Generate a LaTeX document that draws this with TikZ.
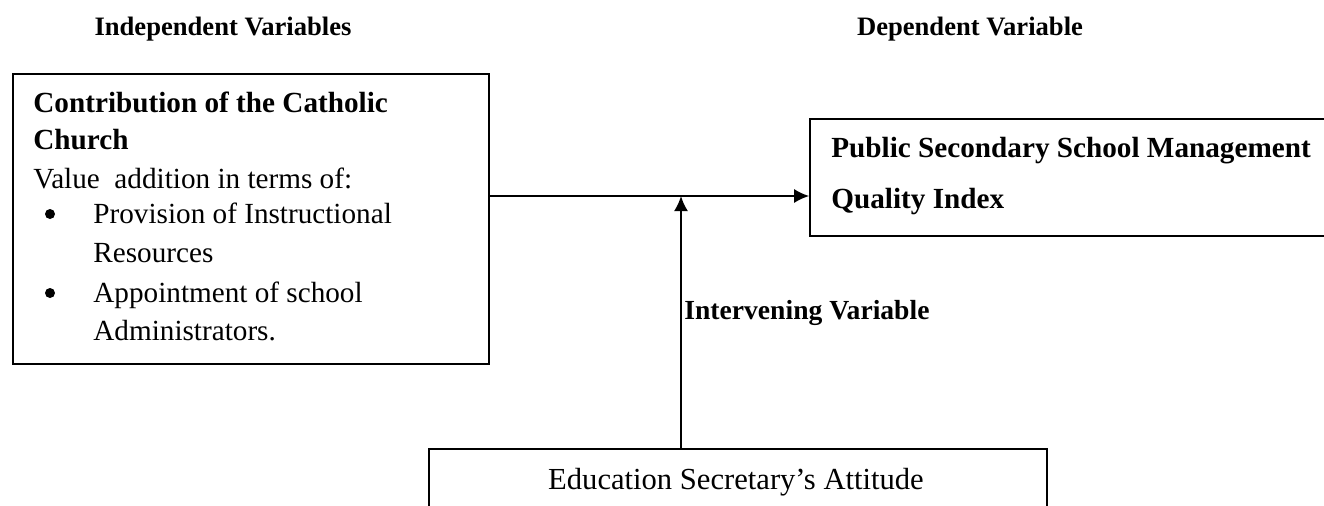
\documentclass[tikz,border=0pt]{standalone}
\usepackage{fontspec}
\setmainfont{Liberation Serif}
\usetikzlibrary{arrows.meta,positioning}
\tikzset{
  box/.style={draw, line width=0.8pt, inner sep=0pt},
  body/.style={anchor=base west, inner sep=0pt, font=\fontsize{14.6pt}{19pt}\selectfont},
  bodybf/.style={anchor=base west, inner sep=0pt, font=\fontsize{14.6pt}{19pt}\selectfont\bfseries},
  head/.style={anchor=base, inner sep=0pt, font=\fontsize{13.3pt}{16pt}\selectfont\bfseries},
  dot/.style={circle, fill, inner sep=0pt, minimum size=5pt},
  link/.style={line width=1pt, -{Latex[length=7.5pt,width=7pt]}}
}

\begin{document}
\begin{tikzpicture}[x=0.5pt,y=-0.5pt]
\useasboundingbox (0,0) rectangle (1324,505);

% headings
\node[head] (indep) at (223,35) {Independent Variables};
\node[head] (dep) at (970,35) {Dependent Variable};

% boxes
\node[box, minimum width=238pt, minimum height=145pt] (church) at (251,219) {};
\node[box, minimum width=265pt, minimum height=58.5pt] (quality) at (1075,177.5) {};
\node[box, minimum width=309pt, minimum height=40.5pt] (attitude) at (738,489.5) {};

% independent variable
\node[bodybf] (cont1) at (33,112) {Contribution of the Catholic};
\node[bodybf] (cont2) at (33,149) {Church};
\node[body] (value) at (33,188) {Value\ \ addition in terms of:};
\node[dot] (dot1) at (50,214) {};
\node[body] (prov1) at (93,223) {Provision of Instructional};
\node[body] (prov2) at (93,262) {Resources};
\node[dot] (dot2) at (50,293) {};
\node[body] (appt1) at (93,302) {Appointment of school};
\node[body] (appt2) at (93,340) {Administrators.};

% dependent variable
\node[bodybf] (pub) at (831,157) {Public Secondary School Management};
\node[bodybf] (qual) at (831,208) {Quality Index};

% intervening variable
\node[anchor=base west, inner sep=0pt, font=\fontsize{13.8pt}{16pt}\selectfont\bfseries] (interv) at (684,319) {Intervening Variable};
\node[anchor=base, inner sep=0pt, font=\fontsize{15.3pt}{18pt}\selectfont] (secr) at (736,489) {Education Secretary’s Attitude};

\coordinate (meet) at (681,196);
\draw[link] (church.east |- meet) -- (quality.west |- meet);
\draw[link] (attitude.north -| meet) -- (meet);

\end{tikzpicture}
\end{document}
